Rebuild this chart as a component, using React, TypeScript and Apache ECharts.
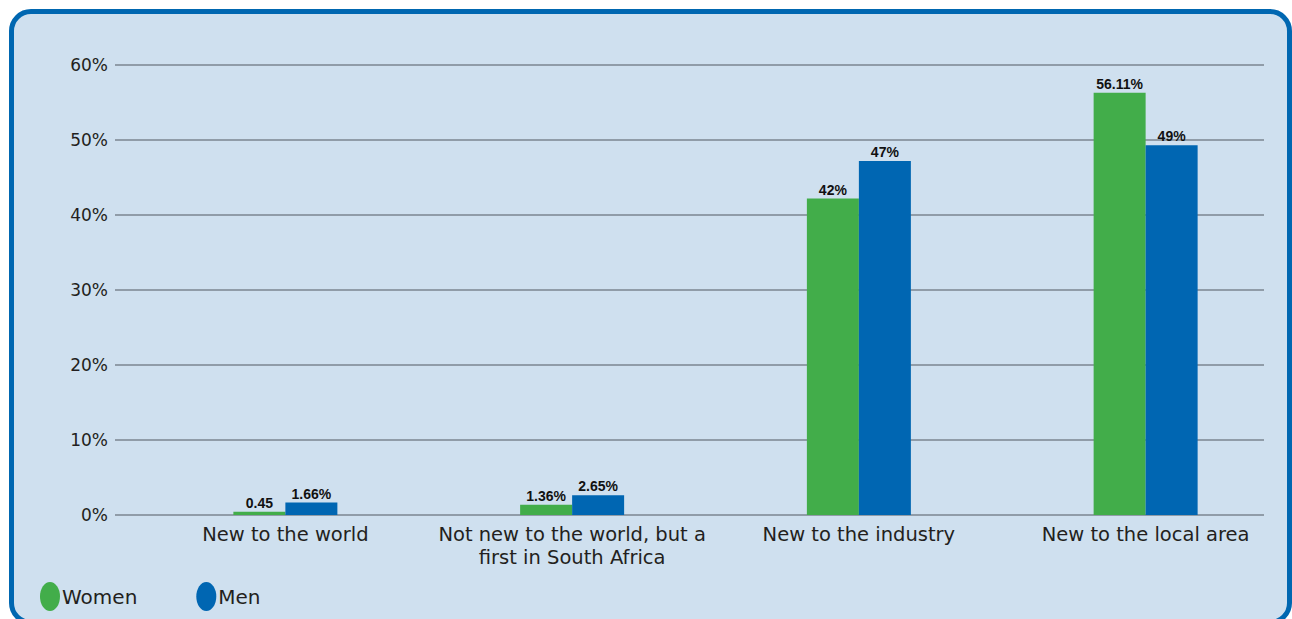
import React, { useEffect, useRef } from "react";
import * as echarts from "echarts";

const categories = [
  "New to the world",
  "Not new to the world, but a\nfirst in South Africa",
  "New to the industry",
  "New to the local area",
];
const womenValues = [0.45, 1.36, 42.2, 56.3];
const menValues = [1.66, 2.65, 47.2, 49.3];
const womenLabels = ["0.45", "1.36%", "42%", "56.11%"];
const menLabels = ["1.66%", "2.65%", "47%", "49%"];
const yTicks = [0, 10, 20, 30, 40, 50, 60];

const FONT = "DejaVu Sans";
const LABEL_FONT = "Liberation Sans";

export default function App() {
  const ref = useRef<HTMLDivElement>(null);
  useEffect(() => {
    if (!ref.current) return;
    const chart = echarts.init(ref.current, null, { renderer: "svg" });
    const ellipse = "path://M10,0A10,14.5 0 1 1 10,29A10,14.5 0 1 1 10,0Z";
    chart.setOption({
      animation: false,
      backgroundColor: "transparent",
      textStyle: { fontFamily: FONT },
      grid: [
        { left: 115, right: 28, top: 65, bottom: 104 },
        { left: 142, right: 3, top: 65, bottom: 104 },
      ],
      legend: {
        left: 40,
        top: 582,
        padding: 0,
        itemWidth: 20,
        itemHeight: 29,
        itemGap: 59,
        icon: ellipse,
        textStyle: { fontFamily: FONT, fontSize: 20, color: "#231f20", padding: [0, 0, 0, -3] },
        data: ["Women", "Men"],
      },
      xAxis: [
        {
          type: "category",
          gridIndex: 0,
          data: categories,
          show: false,
        },
        {
          type: "category",
          gridIndex: 1,
          data: categories,
          axisLine: { show: false },
          axisTick: { show: false },
          axisLabel: {
            margin: 8,
            fontFamily: FONT,
            fontSize: 19.5,
            lineHeight: 23,
            color: "#231f20",
            interval: 0,
          },
        },
      ],
      yAxis: [
        {
          type: "value",
          gridIndex: 0,
          min: yTicks[0],
          max: yTicks[yTicks.length - 1],
          interval: 10,
          axisLine: { show: false },
          axisTick: { show: false },
          axisLabel: {
            formatter: "{value}%",
            margin: 7,
            fontFamily: FONT,
            fontSize: 17,
            color: "#231f20",
          },
          splitLine: { lineStyle: { color: "#7b8691", width: 1.5 } },
        },
        {
          type: "value",
          gridIndex: 1,
          min: yTicks[0],
          max: yTicks[yTicks.length - 1],
          interval: 10,
          show: false,
          splitLine: { show: false },
        },
      ],
      series: [
        {
          name: "Women",
          type: "bar",
          xAxisIndex: 1,
          yAxisIndex: 1,
          barWidth: 52,
          barGap: "0%",
          itemStyle: { color: "#42ad4a" },
          data: womenValues,
          label: {
            show: true,
            position: "top",
            distance: 2,
            fontFamily: LABEL_FONT,
            fontWeight: "bold",
            fontSize: 14,
            color: "#111",
            formatter: (p: any) => womenLabels[p.dataIndex],
          },
        },
        {
          name: "Men",
          type: "bar",
          xAxisIndex: 1,
          yAxisIndex: 1,
          barWidth: 52,
          barGap: "0%",
          itemStyle: { color: "#0066b2" },
          data: menValues,
          label: {
            show: true,
            position: "top",
            distance: 2,
            fontFamily: LABEL_FONT,
            fontWeight: "bold",
            fontSize: 14,
            color: "#111",
            formatter: (p: any) => menLabels[p.dataIndex],
          },
        },
      ],
    });
    return () => chart.dispose();
  }, []);

  return (
    <div style={{ position: "fixed", left: 0, top: 0, width: 1292, height: 619, background: "#fff", overflow: "hidden" }}>
      <div
        style={{
          position: "absolute",
          left: 9,
          top: 9,
          width: 1283,
          height: 616,
          boxSizing: "border-box",
          border: "5px solid #0067b1",
          borderRadius: 22,
          background: "#cfe0ef",
        }}
      />
      <div ref={ref} style={{ position: "absolute", left: 0, top: 0, width: 1292, height: 619 }} />
    </div>
  );
}
